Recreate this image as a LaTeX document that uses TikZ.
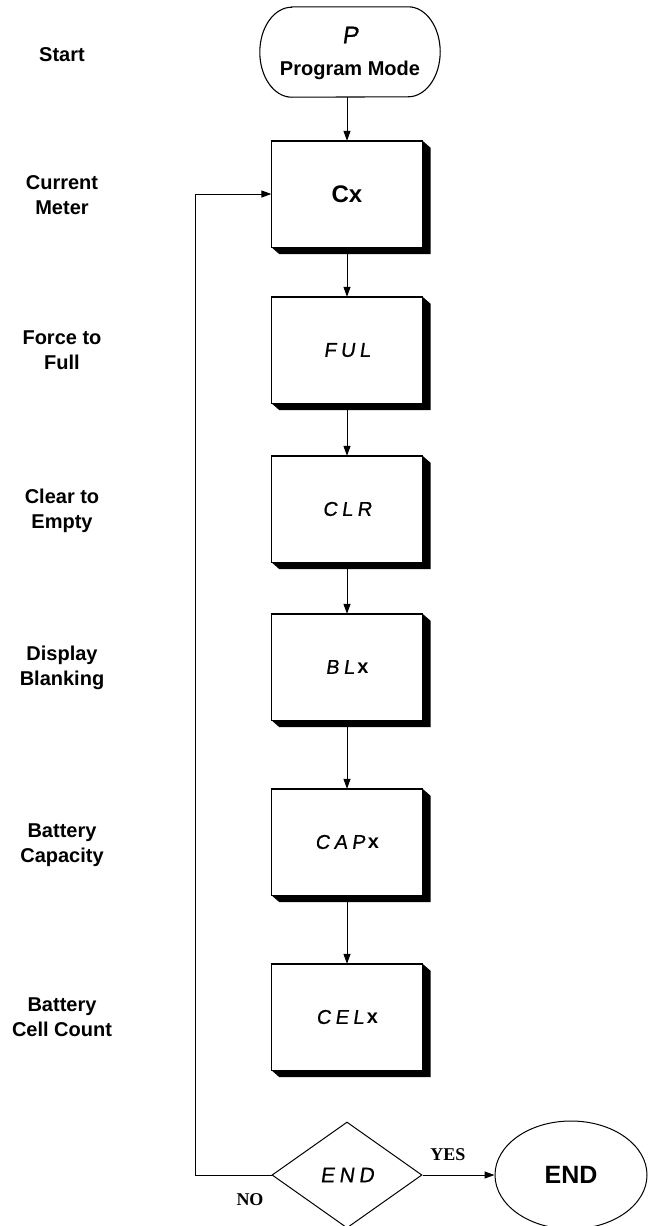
\documentclass[tikz,border=0pt]{standalone}
\usepackage{fontspec}
\setmainfont{Liberation Sans}
\newfontfamily\segfont[FakeSlant=0.15,LetterSpace=22,FakeBold=0.6]{Liberation Sans}
\newfontfamily\serifb{Liberation Serif}
\usetikzlibrary{arrows.meta,shapes.geometric,positioning,calc}
\tikzset{
  stepbox/.style={draw,line width=1.3pt,fill=white,minimum width=150pt,minimum height=105pt,inner sep=0pt},
  sidelabel/.style={align=center,font=\fontsize{20}{25}\selectfont\bfseries},
  segtext/.style={font=\fontsize{20}{24}\selectfont\segfont},
  arr/.style={line width=1pt,-{Triangle[length=10pt,width=7pt]}},
  yesno/.style={font=\fontsize{18}{20}\selectfont\serifb\bfseries}
}
\newcommand{\shadowbox}[1]{%
  \fill (#1.north east) -- ++(8pt,-7pt) -- ($(#1.south east)+(8pt,-7pt)$) -- ($(#1.south west)+(8pt,-7pt)$) -- (#1.south west) -- cycle;}
\begin{document}
\begin{tikzpicture}[x=1pt,y=-1pt]
\useasboundingbox (0,0) rectangle (655,1226);
% start terminal
\node[minimum width=180pt,minimum height=90pt,inner sep=0pt] (start) at (350,52) {};
\draw[line width=1.1pt] ([xshift=32pt]start.north west) -- ([xshift=-32pt]start.north east)
  arc[start angle=90,end angle=-90,x radius=32pt,y radius=45pt]
  -- ([xshift=32pt]start.south west)
  arc[start angle=270,end angle=90,x radius=32pt,y radius=45pt] -- cycle;
\node[font=\fontsize{24}{26}\selectfont\segfont] (pchar) at (350,35) {P};
\node[font=\fontsize{20}{22}\selectfont\bfseries] (pmode) at (350,70) {Program Mode};
% step boxes
\node[stepbox] (cx)  at (347,194)  {};
\node[stepbox] (ful) at (347,350)  {};
\node[stepbox] (clr) at (347,509)  {};
\node[stepbox] (blx) at (347,667)  {};
\node[stepbox] (cap) at (347,842)  {};
\node[stepbox] (cel) at (347,1017) {};
\foreach \b in {cx,ful,clr,blx,cap,cel}{\shadowbox{\b}}
\foreach \b in {cx,ful,clr,blx,cap,cel}{\draw[line width=1.3pt,fill=white] (\b.north west) rectangle (\b.south east);}
\node[font=\fontsize{24}{26}\selectfont\bfseries] at (cx) {Cx};
\node[segtext] at (ful) {FUL};
\node[segtext] at (clr) {CLR};
\node[segtext] at (blx) {BL\kern3pt{\normalfont\bfseries x}};
\node[segtext] at (cap) {CAP\kern3pt{\normalfont\bfseries x}};
\node[segtext] at (cel) {CEL\kern3pt{\normalfont\bfseries x}};
% decision and end
\node[diamond,draw,line width=1pt,minimum width=150pt,minimum height=106pt,aspect=1.415,inner sep=0pt,font=\fontsize{21}{24}\selectfont\segfont] (dec) at (347,1175) {END};
\node[ellipse,draw,line width=1pt,minimum width=152pt,minimum height=108pt,inner sep=0pt,font=\fontsize{25}{27}\selectfont\bfseries] (endn) at (571,1175) {END};
% connectors
\draw[arr] (start.south -| cx.north) -- (cx.north);
\draw[arr] (cx.south) -- (ful.north);
\draw[arr] (ful.south) -- (clr.north);
\draw[arr] (clr.south) -- (blx.north);
\draw[arr] (blx.south) -- (cap.north);
\draw[arr] (cap.south) -- (cel.north);
\draw[arr] (dec.east) -- (endn.west);
\draw[arr] (dec.west) -- ++(-76,0) |- (cx.west);
\node[yesno] (yes) at (448,1155) {YES};
\node[yesno] (no) at (250,1200) {NO};
% side labels
\node[sidelabel] (l1) at (62,55) {Start};
\node[sidelabel] (l2) at (62,195) {Current\\Meter};
\node[sidelabel] (l3) at (62,350) {Force to\\Full};
\node[sidelabel] (l4) at (62,511) {Clear to\\Empty};
\node[sidelabel] (l5) at (62,668) {Display\\Blanking};
\node[sidelabel] (l6) at (62,845) {Battery\\Capacity};
\node[sidelabel] (l7) at (62,1017) {Battery\\Cell Count};
\end{tikzpicture}
\end{document}
